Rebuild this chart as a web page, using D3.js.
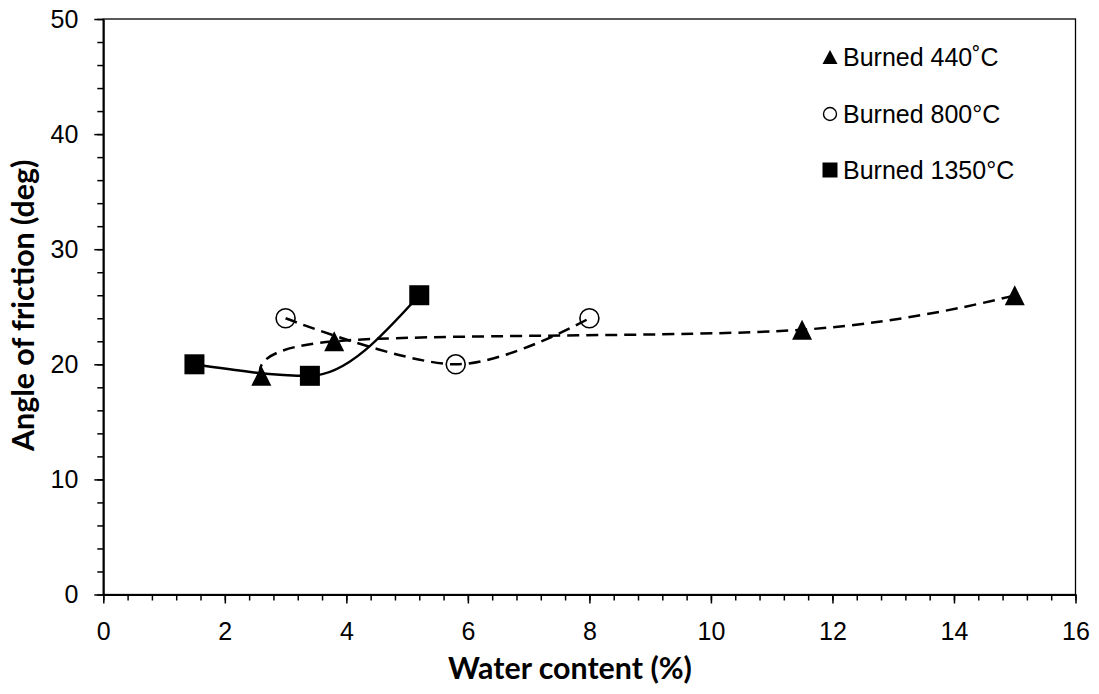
<!DOCTYPE html>
<html>
<head>
<meta charset="utf-8">
<script src="https://cdn.jsdelivr.net/npm/d3@7"></script>
<style>
  html, body { margin: 0; padding: 0; background: #fff; }
  svg { display: block; }
</style>
</head>
<body>
<script>
// Angle of friction vs water content for the three burning temperatures
const water440 = [2.6, 3.8, 11.5, 15]
const angle440 = [19, 22, 23, 26]
const water800 = [3.0, 5.8, 8.0]
const angle800 = [24, 20, 24]
const water1350 = [1.5, 3.4, 5.2]
const angle1350 = [20, 19, 26]

const seriesNames = ['Burned 440˚C', 'Burned 800°C', 'Burned 1350°C']
const xTicks = [0, 2, 4, 6, 8, 10, 12, 14, 16]
const yTicks = [0, 10, 20, 30, 40, 50]

const width = 1099, height = 694
const margin = { top: 19, right: 23.5, bottom: 99.5, left: 103.3 }
const tickFont = '"Liberation Sans", Arial, sans-serif'
const titleFont = 'Lato, "Open Sans", sans-serif'

const svg = d3.select('body').append('svg')
  .attr('width', width).attr('height', height)

const x = d3.scaleLinear().domain([0, 16]).range([margin.left, width - margin.right])
const y = d3.scaleLinear().domain([0, 50]).range([height - margin.bottom, margin.top])

// Plot frame
svg.append('rect')
  .attr('x', x(0)).attr('y', y(50))
  .attr('width', x(16) - x(0)).attr('height', y(0) - y(50))
  .attr('fill', 'none').attr('stroke', '#000').attr('stroke-width', 1.3)

// Minor ticks
const xMinor = d3.range(0, 16.01, 0.4)
const yMinor = d3.range(0, 50.01, 2)
svg.append('g')
  .attr('transform', `translate(0,${y(0)})`)
  .call(d3.axisBottom(x).tickValues(xMinor).tickSize(6).tickFormat(''))
  .call(g => g.select('.domain').remove())
  .call(g => g.selectAll('line').attr('stroke-width', 1.5))
svg.append('g')
  .attr('transform', `translate(${x(0)},0)`)
  .call(d3.axisLeft(y).tickValues(yMinor).tickSize(6).tickFormat(''))
  .call(g => g.select('.domain').remove())
  .call(g => g.selectAll('line').attr('stroke-width', 1.5))

// Major axes
const xAxis = svg.append('g')
  .attr('transform', `translate(0,${y(0)})`)
  .call(d3.axisBottom(x).tickValues(xTicks).tickSize(9).tickPadding(19).tickSizeOuter(0))
xAxis.select('.domain').attr('stroke-width', 2)
xAxis.selectAll('line').attr('stroke-width', 1.5)
xAxis.selectAll('text')
  .attr('font-family', tickFont).attr('font-size', 25).attr('fill', '#000')

const yAxis = svg.append('g')
  .attr('transform', `translate(${x(0)},0)`)
  .call(d3.axisLeft(y).tickValues(yTicks).tickSize(9).tickPadding(16).tickSizeOuter(0))
yAxis.select('.domain').attr('stroke-width', 2)
yAxis.selectAll('line').attr('stroke-width', 1.5)
yAxis.selectAll('text')
  .attr('font-family', tickFont).attr('font-size', 25).attr('fill', '#000')

// Axis titles
const xTitle = svg.append('text')
  .attr('x', 570).attr('y', 679)
  .attr('text-anchor', 'middle')
  .attr('font-family', titleFont).attr('font-weight', 'bold').attr('font-size', 28)
  .text('Water content (%)')
const fit = xTitle.node().getComputedTextLength()
const titleSize = 28 * 244 / fit
xTitle.attr('font-size', titleSize)

svg.append('text')
  .attr('transform', `translate(34,451) rotate(-90)`)
  .attr('text-anchor', 'start')
  .attr('font-family', titleFont).attr('font-weight', 'bold').attr('font-size', titleSize)
  .text('Angle of friction (deg)')

// Smoothed series lines
const smooth = d3.line()
  .x(d => x(d[0])).y(d => y(d[1]))
  .curve(d3.curveCardinal.tension(0))
const smoothMono = d3.line()
  .x(d => x(d[0])).y(d => y(d[1]))
  .curve(d3.curveMonotoneX)

const pts440 = water440.map((w, i) => [w, angle440[i]])
const pts800 = water800.map((w, i) => [w, angle800[i]])
const pts1350 = water1350.map((w, i) => [w, angle1350[i]])

svg.append('path').datum(pts440).attr('d', smooth)
  .attr('fill', 'none').attr('stroke', '#000').attr('stroke-width', 2.5)
  .attr('stroke-dasharray', '12,7')
svg.append('path').datum(pts800).attr('d', smooth)
  .attr('fill', 'none').attr('stroke', '#000').attr('stroke-width', 2.5)
  .attr('stroke-dasharray', '12,7')
svg.append('path').datum(pts1350).attr('d', smoothMono)
  .attr('fill', 'none').attr('stroke', '#000').attr('stroke-width', 2.5)

// Markers
const triPath = (w, h) => `M0,${-h / 2}L${w / 2},${h / 2}L${-w / 2},${h / 2}Z`

svg.append('g').selectAll('path').data(pts440).join('path')
  .attr('transform', d => `translate(${x(d[0])},${y(d[1])})`)
  .attr('d', triPath(20, 20)).attr('fill', '#000')

svg.append('g').selectAll('circle').data(pts800).join('circle')
  .attr('cx', d => x(d[0])).attr('cy', d => y(d[1])).attr('r', 9.5)
  .attr('fill', 'none').attr('stroke', '#000').attr('stroke-width', 1.6)

svg.append('g').selectAll('rect').data(pts1350).join('rect')
  .attr('x', d => x(d[0]) - 10).attr('y', d => y(d[1]) - 10)
  .attr('width', 20).attr('height', 20).attr('fill', '#000')

// Legend
const legendY = [57, 114, 170]
const lg = svg.append('g').attr('transform', 'translate(830,0)')
lg.append('path').attr('transform', `translate(0,${legendY[0]})`)
  .attr('d', triPath(15, 14)).attr('fill', '#000')
lg.append('circle').attr('cx', 0).attr('cy', legendY[1]).attr('r', 6.5)
  .attr('fill', 'none').attr('stroke', '#000').attr('stroke-width', 1.4)
lg.append('rect').attr('x', -7.5).attr('y', legendY[2] - 7.5)
  .attr('width', 15).attr('height', 15).attr('fill', '#000')
lg.selectAll('text.leg').data(seriesNames).join('text')
  .attr('class', 'leg')
  .attr('x', 13).attr('y', (d, i) => legendY[i] + 9)
  .attr('font-family', tickFont).attr('font-size', 25).attr('fill', '#000')
  .text(d => d)
</script>
</body>
</html>
